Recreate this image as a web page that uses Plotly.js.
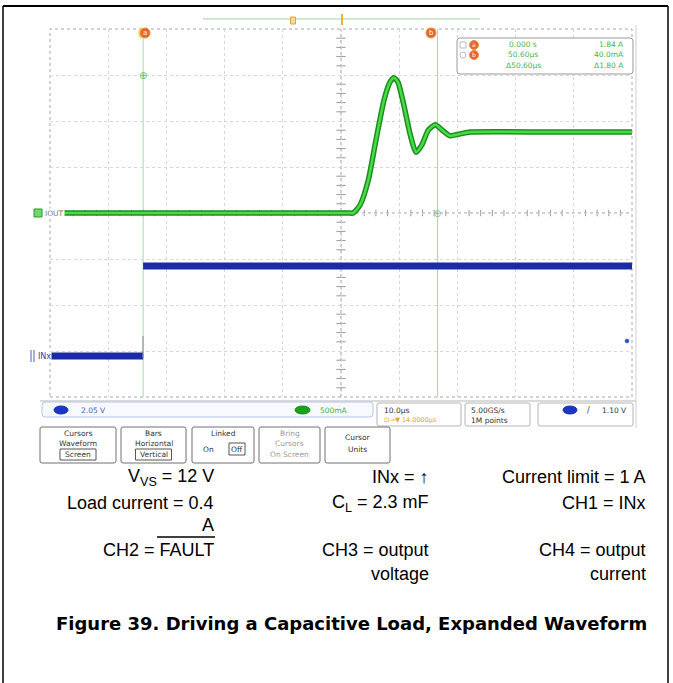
<!DOCTYPE html>
<html><head><meta charset="utf-8">
<script src="https://cdn.plot.ly/plotly-3.0.1.min.js"></script>
<style>html,body{margin:0;padding:0;background:#fff}</style>
</head><body><div id="chart" style="width:673px;height:683px"></div>
<script>
// ---- data ----
// CH4 output current (green), time in µs (cursor a = 0), current in A
const greenTime = [-16, 20, 35.2, 36.1, 37.3, 38.7, 40.0, 41.4, 42.4, 43.1, 43.8, 44.8, 45.9, 46.9, 47.9, 49.0, 50.2, 51.4, 52.7, 54.5, 56.2, 70, 84];
const greenAmps = [0, 0, 0, 0, 0.09, 0.36, 0.79, 1.23, 1.42, 1.47, 1.42, 1.17, 0.85, 0.66, 0.74, 0.90, 0.96, 0.90, 0.84, 0.86, 0.88, 0.88, 0.88];
// blue channel (INx), volts
const blueTime = [-16, 0, null, 0, 84];
const blueVolts = [0, 0, null, 3.92, 3.92];
// scope settings
const timePerDiv = 10;      // µs/div
const greenPerDiv = 0.5;    // A/div
const bluePerDiv = 2;       // V/div
const cursorA = 0, cursorB = 50.6; // µs
const readoutTimes = ['0.000 s', '50.60µs', 'Δ50.60µs'];
const readoutValues = ['1.84 A', '40.0mA', 'Δ1.80 A'];
const statusTexts = ['2.05 V', '500mA', '10.0µs', '5.00GS/s', '1M points', '1.10 V'];
const buttonLabels = [['Cursors','Waveform','Screen'],['Bars','Horizontal','Vertical'],['Linked','On','Off'],['Bring','Cursors','On Screen'],['Cursor','Units']];
const docRows = [
  ['V<sub>VS</sub> = 12 V', 'INx = ↑', 'Current limit = 1 A'],
  ['Load current = 0.4', 'C<sub>L</sub> = 2.3 mF', 'CH1 = INx'],
  ['A', '', ''],
  ['CH2 = FAULT', 'CH3 = output', 'CH4 = output'],
  ['', 'voltage', 'current']
];
const caption = 'Figure 39. Driving a Capacitive Load, Expanded Waveform';

// ---- layout helpers (pixel -> paper) ----
const W = 673, H = 683, L = 50, R = 632, T = 29, B = 397;
const px = x => (x - L) / (R - L);
const py = y => (B - y) / (B - T);
const P = (x, y) => px(x) + ',' + py(y);
const shapes = [], annotations = [];
function line(x0, y0, x1, y1, color, width, dash) {
  shapes.push({type:'line', xref:'paper', yref:'paper', x0:px(x0), y0:py(y0), x1:px(x1), y1:py(y1), line:{color:color, width:width||1, dash:dash||'solid'}});
}
function rrect(x0, y0, x1, y1, r, color, fill, width) {
  shapes.push({type:'path', xref:'paper', yref:'paper', fillcolor:fill||'rgba(0,0,0,0)', line:{color:color, width:width||1},
    path:`M ${P(x0+r,y0)} L ${P(x1-r,y0)} Q ${P(x1,y0)} ${P(x1,y0+r)} L ${P(x1,y1-r)} Q ${P(x1,y1)} ${P(x1-r,y1)} L ${P(x0+r,y1)} Q ${P(x0,y1)} ${P(x0,y1-r)} L ${P(x0,y0+r)} Q ${P(x0,y0)} ${P(x0+r,y0)} Z`});
}
function circ(cx, cy, r, color, fill) {
  shapes.push({type:'circle', xref:'paper', yref:'paper', x0:px(cx-r), x1:px(cx+r), y0:py(cy+r), y1:py(cy-r), line:{color:color, width:1}, fillcolor:fill||'rgba(0,0,0,0)'});
}
function text(x, y, t, size, color, xa, opts) {
  annotations.push(Object.assign({xref:'paper', yref:'paper', x:px(x), y:py(y), text:t, showarrow:false, xanchor:xa||'left', yanchor:'middle',
    font:{family:'DejaVu Sans, sans-serif', size:size, color:color}}, opts||{}));
}

// outer document border
line(3, 6, 668, 6, '#000', 2);
line(3, 6, 3, 690, '#000', 1.5);
line(668, 6, 668, 690, '#000', 1.5);

// graticule frame and crosshair
shapes.push({type:'rect', xref:'paper', yref:'paper', x0:0, x1:1, y0:0, y1:1, line:{color:'#a8a8a8', width:1, dash:'dot'}, layer:'below'});
const xMid = -16 + 5 * timePerDiv;
shapes.push({type:'line', xref:'x', yref:'paper', x0:xMid, x1:xMid, y0:0, y1:1, line:{color:'#9a9a9a', width:1, dash:'dot'}, layer:'below'});
shapes.push({type:'line', xref:'paper', yref:'y', x0:0, x1:1, y0:0, y1:0, line:{color:'#9a9a9a', width:1, dash:'dot'}, layer:'below'});
for (let k = 1; k < 50; k++) {
  if (k % 5 === 0) continue;
  const t = -16 + k * timePerDiv / 5;
  shapes.push({type:'line', xref:'x', yref:'y', x0:t, x1:t, y0:-0.07, y1:0.07, line:{color:'#9a9a9a', width:1}, layer:'below'});
}
for (let k = 1; k < 40; k++) {
  if (k % 5 === 0) continue;
  const v = -4 + k * 0.2;
  shapes.push({type:'line', xref:'x', yref:'y', x0:xMid - 0.8, x1:xMid + 0.8, y0:v, y1:v, line:{color:'#9a9a9a', width:1}, layer:'below'});
}
// cursor bars
[cursorA, cursorB].forEach(c => shapes.push({type:'line', xref:'x', yref:'paper', x0:c, x1:c, y0:0, y1:1, line:{color:'#a9d4a9', width:1}, layer:'below'}));
line(143, 336, 143, 358, '#8a8a8a', 1);

// top record bar / trigger markers
line(203, 19, 480, 19, '#9ad69a', 1);
shapes.push({type:'rect', xref:'paper', yref:'paper', x0:px(290.5), x1:px(295.5), y0:py(24), y1:py(17), line:{color:'#e0a23a', width:1}, fillcolor:'#f3d9a0'});
line(342, 14, 342, 25, '#f0b030', 2);

// cursor markers a/b
circ(145, 33, 5, '#f08a40', '#e8652e');
circ(431, 33, 5, '#f08a40', '#e8652e');
text(145, 33, 'a', 7, '#fff', 'center');
text(431, 33, 'b', 7, '#fff', 'center');
shapes.push({type:'path', xref:'paper', yref:'paper', line:{color:'#f5d33a', width:1.5}, path:`M ${P(141,28)} Q ${P(137,33)} ${P(141,38)}`});

// readout box
rrect(457, 38, 633, 74, 3, '#9a9a9a', '#ffffff');
shapes.push({type:'rect', xref:'paper', yref:'paper', x0:px(460), x1:px(466), y0:py(48), y1:py(42), line:{color:'#bbbbbb', width:1}});
circ(463, 55, 3, '#bbbbbb');
circ(474, 45, 4.5, '#f08a40', '#e8652e');
circ(474, 55, 4.5, '#f08a40', '#e8652e');
text(474, 45, 'a', 6, '#fff', 'center');
text(474, 55, 'b', 6, '#fff', 'center');
readoutTimes.forEach((t, i) => text(523, 45 + i * 10, t, 7.5, '#4bb34b', 'center'));
readoutValues.forEach((t, i) => text(626, 45 + i * 10, t, 7.5, '#4bb34b', 'right'));

// waveform point markers
text(143, 75, '⊕', 10, '#66bb66', 'center');
text(437, 213, '⊕', 10, '#88c888', 'center');

// channel labels
shapes.push({type:'rect', xref:'paper', yref:'paper', x0:px(34), x1:px(42), y0:py(217), y1:py(209), line:{color:'#2a9a2a', width:1}, fillcolor:'#6fd86f'});
text(44, 213, 'IOUT', 7.5, '#777', 'left', {bgcolor:'#fff', borderpad:0});
line(31, 350, 31, 362, '#5060c0', 1);
line(34, 350, 34, 362, '#5060c0', 1);
text(37, 356, 'INx', 8, '#3040a8', 'left', {bgcolor:'#fff', borderpad:0});
circ(627, 341, 1.8, '#3050d0', '#3050d0');

// status bar
line(40, 401, 636, 401, '#b5b5b5', 1);
line(636, 25, 636, 428, '#cfcfcf', 1);
rrect(42, 402, 373, 417, 3, '#b8c6ee', '#f7f9ff');
shapes.push({type:'circle', xref:'paper', yref:'paper', x0:px(54), x1:px(68), y0:py(414), y1:py(406), line:{color:'#1830b0', width:1}, fillcolor:'#1a35c8'});
text(79, 410, statusTexts[0], 7.5, '#5060b0');
shapes.push({type:'circle', xref:'paper', yref:'paper', x0:px(295), x1:px(310), y0:py(414), y1:py(406), line:{color:'#1a8a1a', width:1}, fillcolor:'#1aa01a'});
text(318, 410, statusTexts[1], 7.5, '#44b044');
rrect(377, 403, 461, 426, 2, '#b5b5b5', '#fff');
text(382, 410, statusTexts[2], 7.5, '#333');
text(382, 420, '⊡→▼ 14.0000µs', 6.5, '#e0a828');
rrect(465, 403, 530, 426, 2, '#b5b5b5', '#fff');
text(469, 410, statusTexts[3], 7.5, '#333');
text(469, 420, statusTexts[4], 7.5, '#333');
rrect(538, 403, 633, 426, 2, '#b5b5b5', '#fff');
shapes.push({type:'circle', xref:'paper', yref:'paper', x0:px(563), x1:px(577), y0:py(414), y1:py(406), line:{color:'#1830b0', width:1}, fillcolor:'#1a35c8'});
text(588, 410, '/', 8, '#333', 'center');
text(629, 410, statusTexts[5], 7.5, '#333', 'right');

// soft-key buttons
const btnX = [[40, 116], [121, 186], [192, 254], [259, 320], [325, 390]];
btnX.forEach((b, i) => {
  rrect(b[0], 427, b[1], 463, 2, '#707070', '#fff');
  const cx = (b[0] + b[1]) / 2;
  const lab = buttonLabels[i];
  const col = i === 3 ? '#9a9a9a' : '#333';
  if (i === 2) {
    text(cx, 433, lab[0], 7.5, col, 'center');
    text(cx - 14, 449, lab[1], 7.5, col, 'center');
    text(cx + 14, 449, lab[2], 7.5, col, 'center');
    shapes.push({type:'rect', xref:'paper', yref:'paper', x0:px(cx + 6), x1:px(cx + 22), y0:py(455), y1:py(443), line:{color:'#555', width:1}});
  } else if (i === 4) {
    text(cx, 438, lab[0], 7.5, col, 'center');
    text(cx, 449, lab[1], 7.5, col, 'center');
  } else {
    lab.forEach((s, j) => text(cx, 433 + j * 10.5, s, 7.5, col, 'center'));
    if (i < 2) shapes.push({type:'rect', xref:'paper', yref:'paper', x0:px(cx - 18), x1:px(cx + 18), y0:py(460), y1:py(449), line:{color:'#555', width:1}});
  }
});

// document text
const docFont = {family:'Liberation Sans, Arial, sans-serif', size:18, color:'#000'};
const colRight = [216, 431, 648];
const rowY = [477, 503, 525, 550, 574];
docRows.forEach((row, r) => row.forEach((s, c) => {
  if (s) annotations.push({xref:'paper', yref:'paper', x:px(colRight[c]), y:py(rowY[r]), text:s, showarrow:false, xanchor:'right', yanchor:'middle', font:docFont});
}));
line(157, 537, 215, 537, '#000', 1.5);
annotations.push({xref:'paper', yref:'paper', x:px(351), y:py(623), text:'<b>' + caption + '</b>', showarrow:false, xanchor:'center', yanchor:'middle',
  font:{family:'DejaVu Sans, sans-serif', size:18, color:'#000'}});

// ---- traces ----
const greenDiv = greenAmps.map(a => a / greenPerDiv);
const blueOffsetDiv = -3.11;
const blueDiv = blueVolts.map(v => v === null ? null : v / bluePerDiv + blueOffsetDiv);

const traces = [
  {x: blueTime, y: blueDiv, mode:'lines', line:{color:'#1b2aa6', width:7}, connectgaps:false, hoverinfo:'skip'},
  {x: greenTime, y: greenDiv, mode:'lines', line:{color:'#1e8c1e', width:5.5, shape:'spline', smoothing:0.6}, hoverinfo:'skip'},
  {x: greenTime, y: greenDiv, mode:'lines', line:{color:'#46dc46', width:2.5, shape:'spline', smoothing:0.6}, hoverinfo:'skip'}
];

const layout = {
  width: W, height: H,
  margin: {l: L, r: W - R, t: T, b: H - B, pad: 0},
  paper_bgcolor: '#fff', plot_bgcolor: '#fff',
  showlegend: false,
  xaxis: {range: [-16, 84], tick0: -16, dtick: timePerDiv, showticklabels: false, ticks: '', showgrid: true, gridcolor: '#d6d6d6', griddash: 'dot', zeroline: false, showline: false, fixedrange: true},
  yaxis: {range: [-4, 4], tick0: -4, dtick: 1, showticklabels: false, ticks: '', showgrid: true, gridcolor: '#d6d6d6', griddash: 'dot', zeroline: false, showline: false, fixedrange: true},
  shapes: shapes,
  annotations: annotations
};
Plotly.newPlot('chart', traces, layout, {displayModeBar: false, staticPlot: true});
</script></body></html>
